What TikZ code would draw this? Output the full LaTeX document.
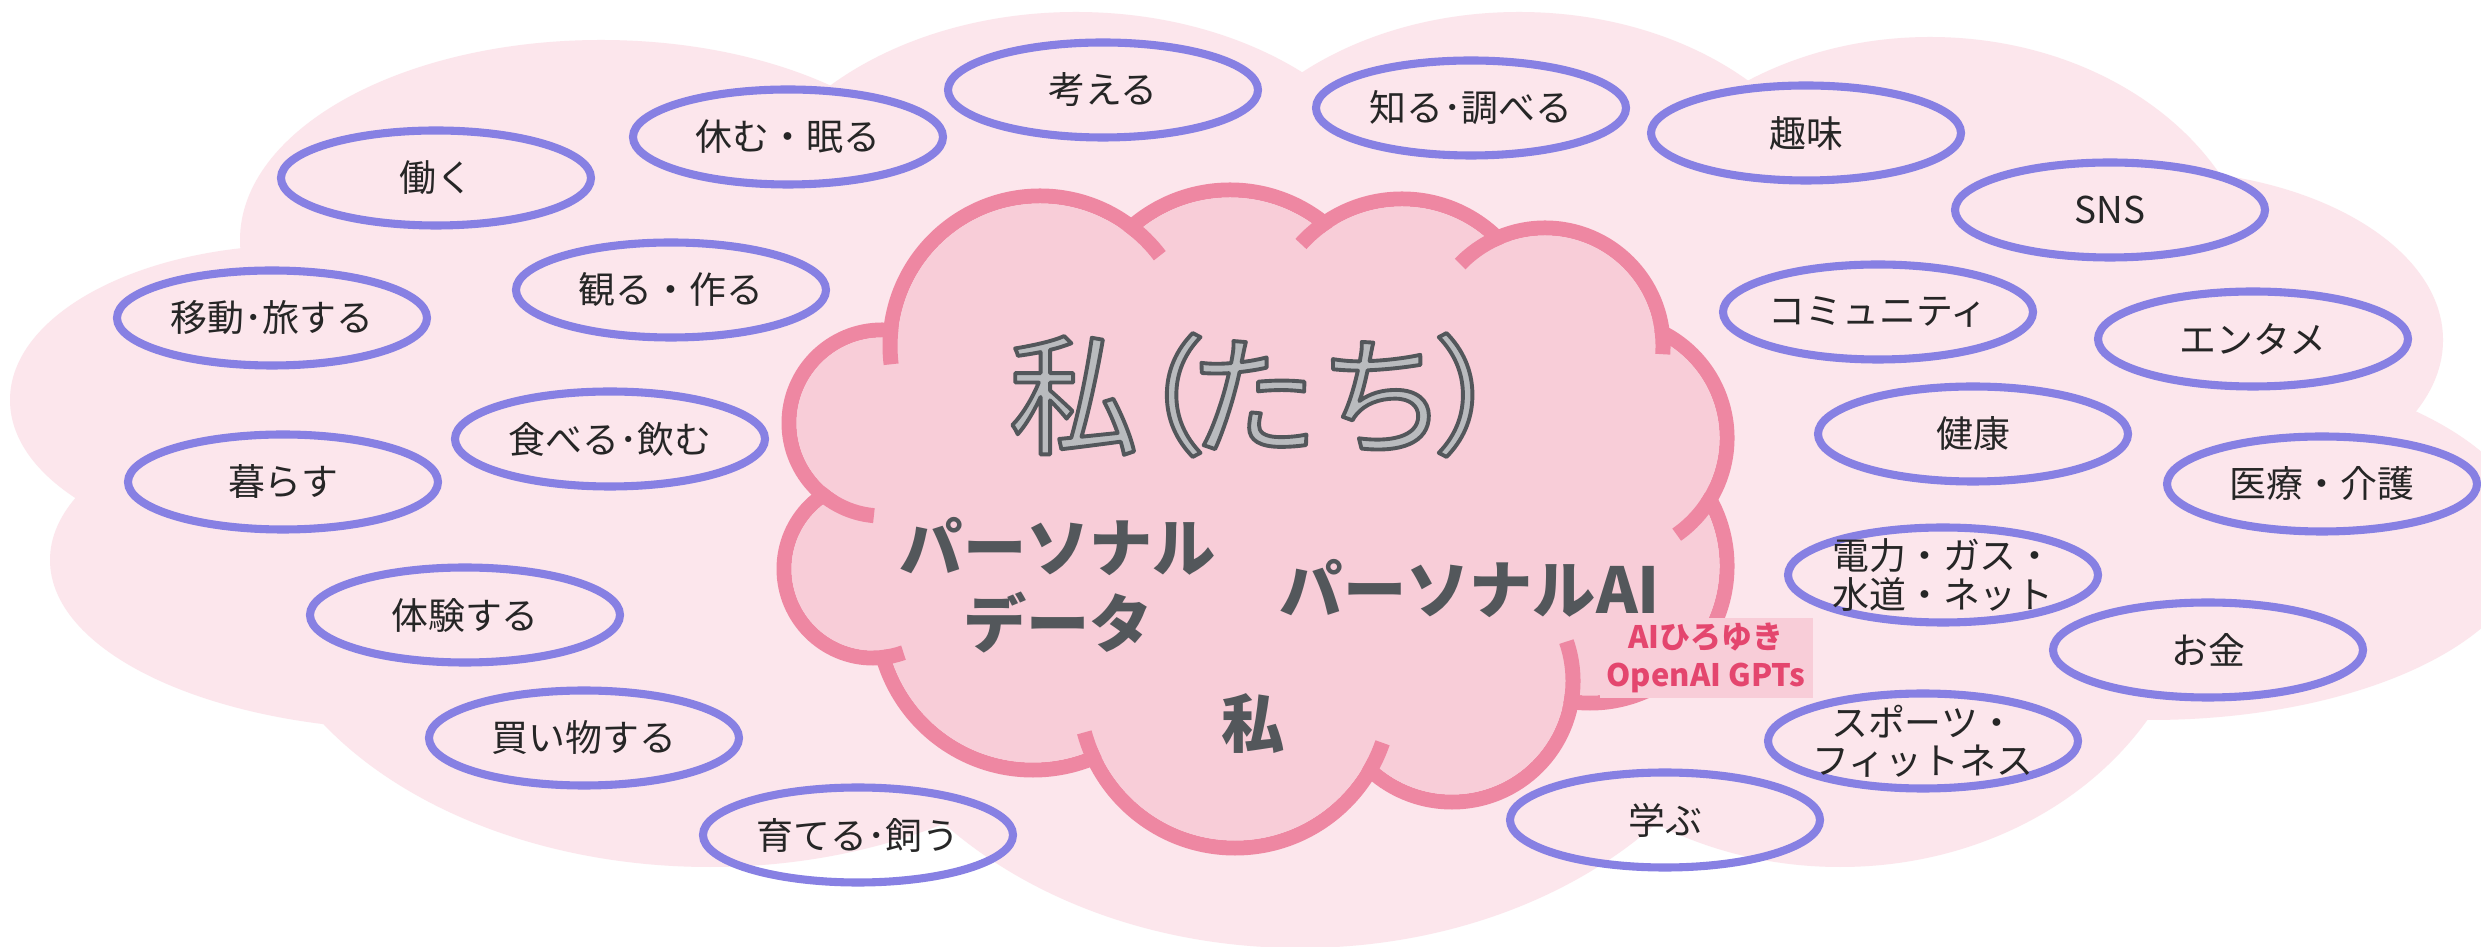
\documentclass[tikz,border=0pt]{standalone}
\usepackage{fontspec}
\setmainfont{Noto Sans CJK JP}
\definecolor{blob}{HTML}{FCE6EC}
\definecolor{cloudfill}{HTML}{F8CDD8}
\definecolor{cloudline}{HTML}{EE87A2}
\definecolor{bubline}{HTML}{8780E3}
\definecolor{ink}{HTML}{262626}
\definecolor{darkgrey}{HTML}{53575B}
\definecolor{titlefill}{HTML}{B9BBBE}
\definecolor{redtxt}{HTML}{E4466E}
\newcommand{\outlinedtext}[1]{\special{pdf:literal direct 2 Tr 1.1 w 1 j 0.325 0.341 0.357 RG}#1\special{pdf:literal direct 0 Tr}}
\tikzset{
  bub/.style={draw=bubline, line width=2.3pt},
  btxt/.style={text=ink, font=\fontsize{10.5}{10.9}\selectfont, align=center, inner sep=0pt},
  cloudstroke/.style={draw=cloudline, line width=4.27pt},
  ctxt/.style={text=darkgrey, font=\bfseries\fontsize{18}{21.6}\selectfont, align=center, inner sep=0pt},
}
\begin{document}
\begin{tikzpicture}[x=0.1mm, y=-0.1mm]
\useasboundingbox (0,0) rectangle (2481,947);
\fill[white] (0,0) rectangle (2481,947);
\clip (0,0) rectangle (2481,947);
% background blob
\fill[blob] (601,240) ellipse [x radius=361, y radius=200];
\fill[blob] (300,400) ellipse [x radius=290, y radius=155];
\fill[blob] (420,560) ellipse [x radius=370, y radius=170];
\fill[blob] (710,555) ellipse [x radius=460, y radius=312];
\fill[blob] (1300,590) ellipse [x radius=470, y radius=358];
\fill[blob] (1076,250) ellipse [x radius=340, y radius=238];
\fill[blob] (1519,250) ellipse [x radius=326, y radius=238];
\fill[blob] (1930,300) ellipse [x radius=330, y radius=263];
\fill[blob] (2150,340) ellipse [x radius=293, y radius=170];
\fill[blob] (2150,540) ellipse [x radius=380, y radius=180];
\fill[blob] (1840,560) ellipse [x radius=360, y radius=307];
\fill[blob] (1240,460) ellipse [x radius=950, y radius=320];
% central cloud
\foreach \cx/\cy/\r in {1040/346/150, 1230/340/150, 1402/335/136, 1545/346/118, 1609/438/118, 1590/566/137, 1452/681/121, 1235/692/156, 1033/614/156, 873/569/89, 882/423/93}
  \draw[cloudstroke] (\cx,\cy) circle [radius=\r];
\foreach \cx/\cy/\r in {1040/346/150, 1230/340/150, 1402/335/136, 1545/346/118, 1609/438/118, 1590/566/137, 1452/681/121, 1235/692/156, 1033/614/156, 873/569/89, 882/423/93}
  \fill[cloudfill] (\cx,\cy) circle [radius=\r-7.5];
\fill[cloudfill] (1040,346) -- (1230,340) -- (1402,335) -- (1545,346) -- (1609,438) -- (1590,566) -- (1452,681) -- (1235,692) -- (1033,614) -- (873,569) -- (882,423) -- cycle;
% inner stubs of the cloud
\draw[cloudstroke] (1040,346) ++(173:150) arc [start angle=173, end angle=186, radius=150];
\draw[cloudstroke] (1040,346) ++(-54:150) arc [start angle=-54, end angle=-37, radius=150];
\draw[cloudstroke] (1402,335) ++(-138:136) arc [start angle=-138, end angle=-123, radius=136];
\draw[cloudstroke] (1545,346) ++(-136:118) arc [start angle=-136, end angle=-112, radius=118];
\draw[cloudstroke] (1545,346) ++(-8:118) arc [start angle=-8, end angle=4, radius=118];
\draw[cloudstroke] (1609,438) ++(30:118) arc [start angle=30, end angle=55, radius=118];
\draw[cloudstroke] (1452,681) ++(-19:121) arc [start angle=-19, end angle=11, radius=121];
\draw[cloudstroke] (1235,692) ++(19:156) arc [start angle=19, end angle=31, radius=156];
\draw[cloudstroke] (1235,692) ++(154:156) arc [start angle=154, end angle=165, radius=156];
\draw[cloudstroke] (873,569) ++(70:89) arc [start angle=70, end angle=85, radius=89];
\draw[cloudstroke] (882,423) ++(95:93) arc [start angle=95, end angle=131, radius=93];
% label box
\node[fill=cloudfill, minimum width=21.3mm, minimum height=8mm, inner sep=0pt, text=redtxt, font=\bfseries\fontsize{8.8}{10.8}\selectfont, align=center] (gpts) at (1706,658) {AIひろゆき\\OpenAI GPTs};
% cloud texts
\node[text=titlefill, font=\fontsize{37}{40}\selectfont, inner sep=0pt, anchor=west] (title) at (1008,395) {\outlinedtext{私\kern-0.48em（\kern-0.14emたち\kern-0.12em）}};
\node[ctxt] (pdata) at (1058,585) {パーソナル\\データ};
\node[ctxt] (pai) at (1470,589) {パーソナルAI};
\node[ctxt] (watashi) at (1253,724) {私};
% bubbles
\foreach \x/\y/\t/\n in {
 436/178/働く/b1, 788/137/休む・眠る/b2, 1103/90/考える/b3, 272/318/移動･旅する/b4,
 671/290/観る・作る/b5, 610/439/食べる･飲む/b6, 283/482/暮らす/b7, 465/615/体験する/b8,
 584/738/買い物する/b9, 858/835/育てる･飼う/b10, 1471/108/知る･調べる/b11, 1806/133/趣味/b12,
 2110/210/SNS/b13, 1878/312/コミュニティ/b14, 2253/339/エンタメ/b15, 1973/434/健康/b16,
 2322/484/医療・介護/b17, 2208/650/お金/b19, 1665/820/学ぶ/b21}
{
  \draw[bub] (\x,\y) ellipse [x radius=155, y radius=47.5];
  \node[btxt] (\n) at (\x,\y) {\t};
}
\draw[bub] (1943,575) ellipse [x radius=155, y radius=47.5];
\node[btxt] (b18) at (1943,575) {電力・ガス・\\水道・ネット};
\draw[bub] (1923,741) ellipse [x radius=155, y radius=47.5];
\node[btxt] (b20) at (1923,741) {スポーツ・\\フィットネス};
\end{tikzpicture}
\end{document}
